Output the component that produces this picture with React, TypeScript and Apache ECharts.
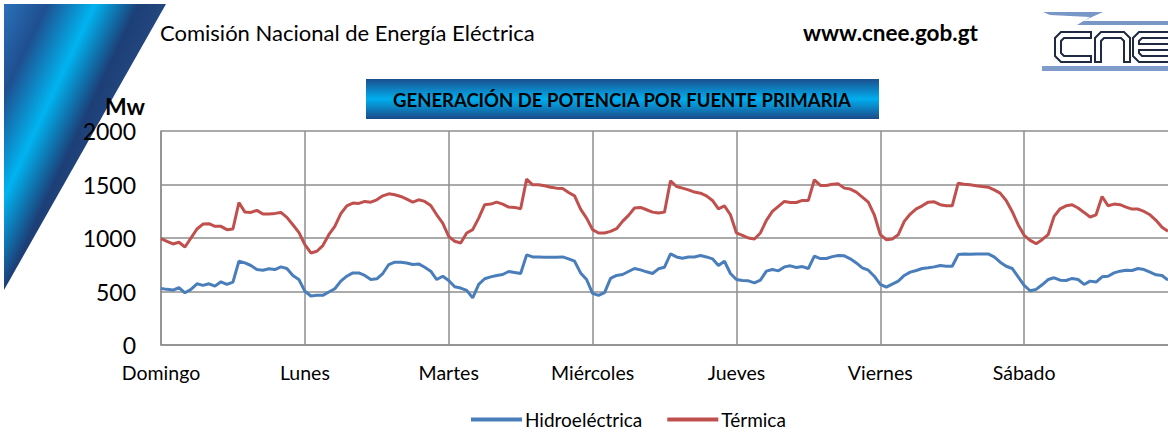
import React, { useEffect, useRef } from 'react';
import * as echarts from 'echarts';

const days = ['Domingo', 'Lunes', 'Martes', 'Miércoles', 'Jueves', 'Viernes', 'Sábado'];
const seriesNames = ['Hidroeléctrica', 'Térmica'];

const hidro = [
  529, 520, 513, 535, 488, 520, 572, 557, 572, 550, 591, 566, 588, 783, 767, 743, 705, 699, 712, 705, 730, 715, 650, 612,
  504, 458, 464, 464, 495, 526, 597, 643, 674, 674, 650, 612, 619, 668, 752, 774, 774, 767, 752, 758, 727, 690, 612, 643,
  603, 544, 532, 510, 440, 566, 619, 637, 650, 659, 687, 678, 668, 842, 823, 823, 820, 820, 820, 823, 805, 783, 674, 612,
  482, 464, 489, 622, 650, 659, 687, 715, 702, 684, 668, 712, 727, 851, 823, 811, 823, 823, 836, 823, 805, 743, 783, 668,
  612, 603, 600, 581, 606, 690, 705, 693, 730, 740, 724, 733, 715, 830, 808, 808, 826, 836, 833, 805, 767, 721, 699, 643,
  566, 541, 569, 597, 650, 681, 696, 715, 721, 730, 743, 736, 736, 845, 851, 848, 851, 851, 851, 823, 774, 736, 715, 637,
  557, 507, 520, 563, 612, 628, 606, 603, 622, 612, 566, 597, 588, 637, 643, 674, 690, 699, 696, 715, 705, 681, 656, 650, 606,
];

const termica = [
  994, 969, 944, 960, 916, 1000, 1084, 1130, 1134, 1109, 1109, 1078, 1084, 1332, 1242, 1239, 1258, 1224, 1224, 1230, 1239, 1193, 1124, 1053,
  938, 860, 876, 929, 1031, 1109, 1227, 1301, 1326, 1323, 1342, 1335, 1357, 1394, 1413, 1404, 1388, 1363, 1335, 1357, 1342, 1304, 1217, 1140,
  1016, 969, 953, 1047, 1078, 1186, 1311, 1317, 1335, 1317, 1289, 1286, 1273, 1550, 1497, 1497, 1488, 1475, 1466, 1463, 1425, 1394, 1270, 1186,
  1078, 1047, 1047, 1062, 1087, 1155, 1211, 1280, 1286, 1264, 1242, 1233, 1242, 1535, 1481, 1466, 1450, 1429, 1419, 1394, 1351, 1273, 1301, 1217,
  1047, 1025, 1000, 991, 1047, 1165, 1248, 1295, 1342, 1332, 1332, 1351, 1351, 1544, 1491, 1491, 1503, 1506, 1466, 1457, 1429, 1382, 1335, 1217,
  1031, 984, 991, 1031, 1155, 1224, 1273, 1301, 1335, 1338, 1311, 1301, 1301, 1512, 1503, 1497, 1488, 1481, 1475, 1450, 1419, 1351, 1248, 1124,
  1025, 978, 947, 984, 1031, 1202, 1273, 1301, 1311, 1280, 1239, 1196, 1217, 1388, 1301, 1317, 1311, 1289, 1270, 1270, 1248, 1217, 1165, 1100, 1062,
];

const hoursPerDay = 24;
const categories = hidro.map((_, i) => (i % hoursPerDay === 0 && days[i / hoursPerDay] ? days[i / hoursPerDay] : ''));

const FONT = 'Lato, "Open Sans", sans-serif';
const GRID = '#8e8e8e';

export default function App() {
  const ref = useRef<HTMLDivElement>(null);
  useEffect(() => {
    document.body.style.margin = '0';
    document.body.style.overflow = 'hidden';
    if (!ref.current) return;
    const chart = echarts.init(ref.current, null, { renderer: 'svg' });
    const isDayStart = (i: number) => i % hoursPerDay === 0 && i < days.length * hoursPerDay;
    chart.setOption({
      animation: false,
      textStyle: { fontFamily: FONT },
      grid: { left: 161, right: -3, top: 131, bottom: 91, containLabel: false },
      xAxis: {
        type: 'category',
        data: categories,
        boundaryGap: false,
        axisLine: { lineStyle: { color: GRID, width: 1.5 } },
        axisTick: { show: false },
        axisLabel: { interval: isDayStart, color: '#000', fontSize: 19.5, margin: 17, fontFamily: FONT },
        splitLine: { show: true, interval: isDayStart, lineStyle: { color: GRID, width: 1.5 } },
      },
      yAxis: {
        type: 'value',
        min: 0,
        max: 2000,
        interval: 500,
        axisLine: { show: true, lineStyle: { color: GRID, width: 1.5 } },
        axisTick: { show: false },
        axisLabel: { color: '#000', fontSize: 23, margin: 25, fontFamily: FONT, formatter: (v: number) => String(v) },
        splitLine: { lineStyle: { color: GRID, width: 1.5 } },
      },
      legend: {
        left: 466,
        top: 405,
        icon: 'rect',
        itemWidth: 51,
        itemHeight: 4,
        itemGap: 25,
        textStyle: { fontSize: 19, color: '#000', fontFamily: FONT, padding: [0, 0, 0, -2] },
        data: seriesNames,
      },
      series: [
        {
          name: seriesNames[0],
          type: 'line',
          data: hidro,
          showSymbol: false,
          symbol: 'none',
          color: '#4a7ebb',
          lineStyle: { width: 3, color: '#4a7ebb' },
        },
        {
          name: seriesNames[1],
          type: 'line',
          data: termica,
          showSymbol: false,
          symbol: 'none',
          color: '#c0504d',
          lineStyle: { width: 3, color: '#c0504d' },
        },
      ],
      graphic: [
        {
          type: 'polygon',
          z: -10,
          shape: { points: [[4, 4], [166, 4], [4, 290]] },
          style: {
            fill: {
              type: 'linear', global: true, x: 5, y: 5, x2: 141, y2: 69,
              colorStops: [
                { offset: 0, color: '#2a70b8' },
                { offset: 0.25, color: '#1f4f90' },
                { offset: 0.54, color: '#00b4f0' },
                { offset: 0.8, color: '#1d3f78' },
                { offset: 1, color: '#24487f' },
              ],
            },
          },
        },
        {
          type: 'rect',
          shape: { x: 366, y: 79, width: 513, height: 40 },
          style: {
            fill: {
              type: 'linear', x: 0, y: 0, x2: 0, y2: 1,
              colorStops: [
                { offset: 0, color: '#1c4f8e' },
                { offset: 0.5, color: '#00aeef' },
                { offset: 1, color: '#1c4a88' },
              ],
            },
          },
        },
        {
          type: 'text',
          z: 100,
          style: {
            text: 'GENERACIÓN DE POTENCIA POR FUENTE PRIMARIA',
            x: 622, y: 100, align: 'center', verticalAlign: 'middle',
            font: `bold 18.5px ${FONT}`, fill: '#000',
          },
        },
        {
          type: 'text',
          z: 100,
          style: {
            text: 'Comisión Nacional de Energía Eléctrica',
            x: 160, y: 32, verticalAlign: 'middle',
            font: `22px ${FONT}`, fill: '#000',
          },
        },
        {
          type: 'text',
          z: 100,
          style: {
            text: 'www.cnee.gob.gt',
            x: 803, y: 32, verticalAlign: 'middle',
            font: `bold 22.5px ${FONT}`, fill: '#000',
          },
        },
        {
          type: 'text',
          z: 100,
          style: {
            text: 'Mw',
            x: 105, y: 106, verticalAlign: 'middle',
            font: `bold 23px ${FONT}`, fill: '#000',
          },
        },
        {
          type: 'polygon',
          shape: { points: [[1043, 12], [1103, 12], [1083, 21], [1168, 21], [1168, 25], [1077, 25], [1090, 17], [1050, 15]] },
          style: { fill: '#7896c6' },
        },
        {
          type: 'rect',
          shape: { x: 1042, y: 66, width: 126, height: 5 },
          style: { fill: '#7f9ccb' },
        },
        {
          type: 'polygon',
          shape: { points: [[1091, 32], [1061, 32], [1055, 38], [1055, 56], [1061, 62], [1091, 62], [1091, 56], [1064, 56], [1061, 53], [1061, 41], [1064, 38], [1091, 38]] },
          style: { fill: '#fff', stroke: '#1f2a40', lineWidth: 2 },
        },
        {
          type: 'polygon',
          shape: { points: [[1095, 62], [1095, 38], [1101, 32], [1124, 32], [1130, 38], [1130, 62], [1124, 62], [1124, 41], [1121, 38], [1104, 38], [1101, 41], [1101, 62]] },
          style: { fill: '#fff', stroke: '#1f2a40', lineWidth: 2 },
        },
        {
          type: 'polygon',
          shape: { points: [[1169, 32], [1139, 32], [1133, 38], [1133, 56], [1139, 62], [1169, 62], [1169, 56], [1142, 56], [1139, 53], [1139, 50], [1169, 50], [1169, 44], [1139, 44], [1139, 41], [1142, 38], [1169, 38]] },
          style: { fill: '#fff', stroke: '#1f2a40', lineWidth: 2 },
        },
      ],
    });
    return () => chart.dispose();
  }, []);
  return <div ref={ref} style={{ width: 1168, height: 436 }} />;
}
